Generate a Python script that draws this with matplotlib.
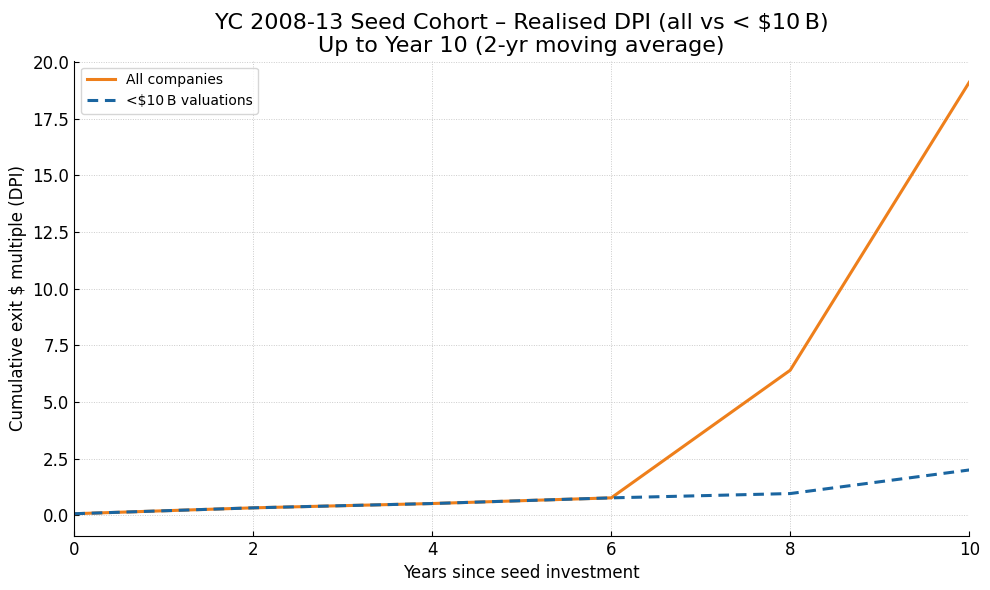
import matplotlib
matplotlib.use("Agg")
import matplotlib.pyplot as plt

years = [0, 2, 4, 6, 8, 10]
dpi_all = [0.07, 0.33, 0.52, 0.77, 6.4, 19.1]
dpi_under_10b = [0.07, 0.33, 0.52, 0.77, 0.96, 2.0]

fig, ax = plt.subplots(figsize=(9.9, 5.9), dpi=100)

ax.plot(years, dpi_all, color="#ee7f1b", lw=2.2, label="All companies")
ax.plot(years, dpi_under_10b, color="#1a65a0", lw=2.2, ls="--", dashes=(3.5, 2.2),
        label="<$10\u2009B valuations")

ax.set_xlim(0, 10)
ax.set_yticks([0, 2.5, 5, 7.5, 10, 12.5, 15, 17.5, 20])
ax.set_ylim(-0.9, 20.05)
ax.set_title("YC 2008-13 Seed Cohort \u2013 Realised DPI (all vs < $10\u2009B)\n"
             "Up to Year 10 (2-yr moving average)", fontsize=16)
ax.set_xlabel("Years since seed investment", fontsize=12)
ax.set_ylabel("Cumulative exit $ multiple (DPI)", fontsize=12)
ax.tick_params(direction="in", labelsize=12)
ax.grid(True, ls=(0, (1, 1.5)), color="#cccccc", lw=0.7)
ax.spines["top"].set_visible(False)
ax.spines["right"].set_visible(False)
ax.legend(loc="upper left", fontsize=10)

fig.subplots_adjust(left=0.075, right=0.979, top=0.897, bottom=0.092)
fig.savefig("out.png", dpi=100)
